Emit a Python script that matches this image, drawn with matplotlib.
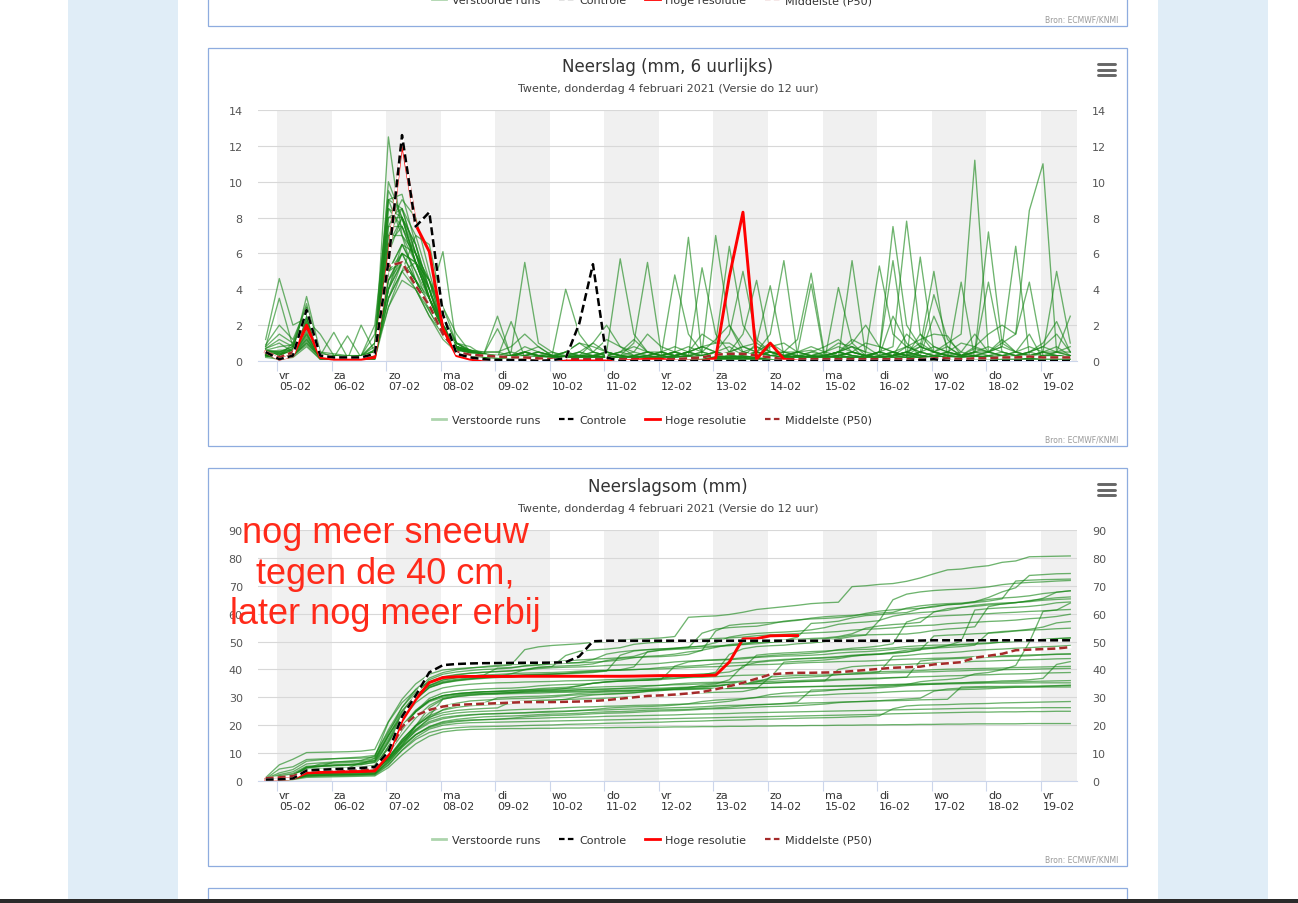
import numpy as np
import pandas as pd
import matplotlib
matplotlib.use('Agg')
import matplotlib.pyplot as plt
import matplotlib.transforms as mtrans
from matplotlib.patches import Rectangle
from matplotlib.lines import Line2D

plt.rcParams['font.family'] = ['DejaVu Sans']

# 6-hourly steps, first value 04-02 19:00 (local time)
times = pd.date_range('2021-02-04 19:00', periods=60, freq='6h').values
days = pd.date_range('2021-02-05', periods=15, freq='D').values
weekdays = ['vr', 'za', 'zo', 'ma', 'di', 'wo', 'do', 'vr', 'za', 'zo', 'ma', 'di', 'wo', 'do', 'vr']
daylabels = ['05-02', '06-02', '07-02', '08-02', '09-02', '10-02', '11-02', '12-02',
             '13-02', '14-02', '15-02', '16-02', '17-02', '18-02', '19-02']

# control run, mm per 6 h
control_rain = [0.5, 0.1, 0.3, 2.85, 0.3, 0.2, 0.2, 0.2, 0.4,
                5.5, 12.6, 7.5, 8.3, 2.6, 0.4, 0.2, 0.1,
                0.05, 0.05, 0.05, 0.0, 0.05, 0.15, 2.1, 5.4, 0.2, 0.0, 0.0, 0.0,
                0.0, 0.0, 0.0, 0.0, 0.0, 0.0, 0.0, 0.0, 0.0, 0.0, 0.0, 0.0,
                0.0, 0.0, 0.0, 0.0, 0.0, 0.0, 0.0, 0.05, 0.1, 0.0, 0.0, 0.0,
                0.0, 0.0, 0.0, 0.0, 0.0, 0.0, 0.0]

# high resolution run (only 40 steps)
hires_rain = [0.5, 0.1, 0.3, 2.0, 0.2, 0.1, 0.1, 0.1, 0.2,
              5.7, 12.3, 7.6, 6.1, 1.8, 0.3, 0.1, 0.0,
              0.0, 0.0, 0.05, 0.0, 0.0, 0.0, 0.0, 0.0, 0.0, 0.0, 0.05, 0.1,
              0.1, 0.0, 0.0, 0.0, 0.15, 4.7, 8.3, 0.1, 1.0, 0.1, 0.0]

# median (P50) of the ensemble
p50_rain = [0.5, 0.2, 0.5, 1.9, 0.3, 0.2, 0.2, 0.2, 0.4,
            5.3, 5.5, 4.2, 3.1, 1.5, 0.5, 0.35, 0.3,
            0.25, 0.2, 0.2, 0.15, 0.1, 0.1, 0.1, 0.1, 0.1, 0.1, 0.1, 0.1,
            0.1, 0.1, 0.15, 0.2, 0.35, 0.4, 0.4, 0.3, 0.2, 0.1, 0.1, 0.1,
            0.1, 0.1, 0.1, 0.1, 0.1, 0.1, 0.1, 0.1, 0.15, 0.15, 0.1, 0.15,
            0.15, 0.2, 0.2, 0.25, 0.2, 0.2, 0.2]

p50_sum = [1.0, 1.3, 1.8, 3.4, 3.6, 3.8, 4.0, 4.2, 4.6,
           9.5, 19.5, 23.5, 25.5, 26.7, 27.3, 27.5, 27.7,
           27.9, 28.1, 28.3, 28.3, 28.3, 28.4, 28.5, 28.7, 29.0, 29.5, 30.0, 30.5,
           30.7, 31.0, 31.4, 31.9, 32.9, 34.0, 35.2, 36.7, 38.2, 38.6, 38.8, 38.8,
           38.9, 39.0, 39.4, 39.8, 40.2, 40.6, 40.8, 41.0, 41.8, 42.2, 42.6, 44.2,
           44.9, 45.6, 46.9, 47.1, 47.3, 47.5, 48.0]

# perturbed members (verstoorde runs), mm per 6 h
ens_rain = [
    [1.2, 4.6, 2.0, 2.4, 0.1, 0.1, 0.1, 0.2, 0.6,
     10.0, 8.0, 5.5, 3.5, 1.5, 0.5, 0.3, 0.2,
     0.3, 0.5, 5.5, 1.0, 0.5, 0.3, 0.3, 0.5, 0.3, 0.5, 0.3, 0.2,
     0.3, 0.5, 6.9, 0.3, 0.2, 0.5, 0.8, 1.0, 0.5, 0.5, 0.5, 0.6,
     0.3, 0.2, 5.6, 0.3, 0.5, 0.3, 0.8, 1.2, 1.5, 1.4, 0.3, 0.7,
     0.5, 1.2, 0.5, 1.5, 0.1, 0.1, 0.1],
    [0.8, 3.5, 0.8, 2.6, 0.2, 0.1, 0.1, 0.1, 0.4,
     12.5, 7.0, 4.5, 3.0, 1.8, 0.8, 0.5, 0.3,
     0.2, 0.3, 0.5, 0.8, 0.3, 0.2, 0.2, 0.5, 1.2, 0.8, 0.3, 0.2,
     0.1, 0.3, 0.5, 1.5, 1.0, 1.0, 0.5, 0.3, 0.2, 0.5, 1.2, 4.9,
     0.3, 0.5, 1.2, 0.8, 0.3, 0.5, 0.3, 1.5, 0.8, 0.5, 0.3, 0.8,
     1.5, 2.0, 1.5, 4.4, 0.3, 0.3, 0.1],
    [0.5, 0.3, 1.0, 3.2, 0.3, 0.3, 0.2, 0.3, 2.0,
     9.0, 9.3, 6.5, 4.0, 2.0, 1.0, 0.6, 0.5,
     0.5, 0.3, 0.2, 0.3, 0.3, 0.5, 0.3, 0.3, 0.2, 0.3, 0.5, 1.5,
     0.8, 0.5, 0.3, 5.2, 1.5, 0.5, 0.3, 0.2, 0.8, 1.0, 0.5, 0.3,
     0.2, 0.3, 0.5, 1.0, 0.8, 0.5, 0.3, 0.2, 0.5, 0.8, 0.3, 0.5,
     0.5, 0.8, 6.4, 0.3, 0.2, 0.1, 0.1],
    [0.6, 0.5, 0.8, 2.2, 0.2, 0.2, 0.1, 2.0, 0.5,
     8.0, 8.5, 6.0, 4.0, 1.5, 0.8, 0.5, 0.4,
     0.3, 0.2, 0.5, 0.3, 0.2, 0.1, 0.2, 0.3, 0.5, 5.7, 1.5, 0.5,
     0.3, 0.2, 0.3, 0.5, 1.2, 2.0, 0.8, 0.5, 0.3, 0.2, 0.3, 0.5,
     0.8, 1.2, 0.5, 0.3, 0.5, 7.5, 2.0, 0.8, 0.5, 0.3, 0.2, 0.3,
     0.5, 0.8, 0.5, 0.3, 0.2, 0.3, 0.2],
    [0.4, 0.2, 0.5, 3.6, 0.5, 0.2, 0.2, 0.2, 1.0,
     7.5, 9.0, 8.0, 5.0, 2.0, 0.8, 0.5, 0.4,
     0.2, 0.3, 0.8, 0.5, 0.3, 0.2, 0.1, 0.2, 0.3, 0.5, 0.8, 0.5,
     0.3, 0.5, 0.8, 0.5, 7.0, 2.0, 0.5, 0.3, 0.2, 0.3, 0.5, 0.8,
     0.5, 0.3, 0.2, 0.3, 0.5, 0.3, 1.5, 0.8, 0.5, 0.3, 0.2, 0.5,
     0.8, 0.5, 0.3, 0.5, 0.8, 0.5, 0.5],
    [0.5, 0.2, 0.6, 1.8, 0.3, 0.2, 0.2, 0.2, 0.3,
     6.0, 8.0, 6.5, 4.0, 1.8, 0.7, 0.4, 0.3,
     0.1, 0.2, 0.3, 0.5, 0.3, 0.2, 0.5, 1.0, 0.5, 0.3, 0.2, 0.1,
     0.2, 0.3, 0.5, 0.8, 1.0, 6.4, 2.0, 0.8, 0.3, 0.2, 0.5, 0.3,
     0.5, 1.0, 0.8, 0.5, 5.3, 1.5, 0.8, 0.5, 0.3, 0.5, 1.0, 0.8,
     0.5, 0.3, 0.2, 0.5, 1.0, 2.2, 0.5],
    [0.7, 1.0, 0.5, 2.8, 0.3, 0.3, 0.2, 0.2, 0.6,
     7.0, 8.5, 7.0, 4.5, 1.8, 0.8, 0.5, 0.3,
     0.3, 0.5, 0.3, 0.2, 0.1, 0.2, 0.3, 0.2, 0.5, 0.3, 1.0, 5.5,
     0.5, 0.3, 0.2, 0.3, 0.5, 0.3, 0.5, 0.8, 0.5, 0.3, 0.2, 0.3,
     0.2, 0.5, 1.0, 2.0, 0.8, 0.5, 0.3, 0.5, 3.7, 1.2, 0.5, 0.3,
     0.5, 0.3, 0.5, 0.8, 0.5, 0.5, 0.3],
    [0.3, 0.5, 0.4, 1.5, 0.2, 0.1, 0.1, 0.1, 0.2,
     4.5, 6.0, 5.5, 4.0, 2.0, 1.0, 0.6, 0.3,
     0.2, 0.3, 0.5, 0.3, 0.2, 0.5, 1.0, 0.5, 0.3, 0.2, 0.3, 0.5,
     0.3, 0.5, 0.2, 0.3, 0.5, 0.8, 0.3, 0.5, 1.5, 5.6, 0.3, 0.2,
     0.3, 0.5, 0.8, 0.5, 0.3, 0.5, 0.3, 0.8, 0.5, 1.0, 1.5, 11.2,
     0.5, 0.3, 0.2, 0.3, 0.5, 0.8, 0.3],
    [0.9, 2.0, 1.2, 3.0, 0.5, 0.4, 0.3, 0.3, 0.6,
     8.5, 7.5, 5.5, 3.5, 2.0, 0.8, 0.6, 0.4,
     2.5, 0.2, 0.5, 0.3, 0.5, 0.2, 0.3, 1.0, 2.0, 0.8, 0.5, 0.3,
     0.2, 0.3, 0.5, 0.2, 0.1, 0.3, 0.2, 0.3, 0.5, 0.3, 0.2, 0.5,
     0.3, 0.5, 0.8, 0.1, 0.1, 0.1, 0.1, 0.5, 0.8, 0.5, 0.3, 0.5,
     7.2, 1.0, 0.5, 0.3, 0.5, 0.3, 0.2],
    [0.4, 0.3, 0.6, 2.5, 0.3, 0.2, 0.2, 0.2, 0.4,
     6.5, 7.5, 6.0, 4.5, 2.0, 0.7, 0.4, 0.3,
     0.2, 0.1, 0.3, 0.5, 0.3, 0.2, 0.1, 0.3, 0.5, 0.3, 0.2, 0.1,
     0.3, 4.8, 1.5, 0.5, 0.3, 0.2, 0.5, 0.3, 0.5, 0.3, 0.2, 0.3,
     0.5, 0.8, 0.5, 0.3, 0.5, 0.8, 7.8, 1.5, 0.5, 0.3, 0.2, 0.3,
     0.2, 0.3, 0.2, 0.3, 0.2, 0.3, 0.2],
    [0.3, 0.2, 0.4, 1.2, 0.2, 0.1, 0.1, 0.1, 0.2,
     4.5, 6.0, 4.5, 3.0, 1.5, 0.8, 0.5, 0.4,
     0.2, 0.1, 0.2, 0.3, 0.2, 0.1, 0.2, 0.3, 0.5, 0.3, 0.2, 0.1,
     0.2, 0.3, 0.5, 0.8, 0.5, 0.3, 0.2, 0.5, 1.0, 0.5, 0.3, 0.2,
     0.3, 0.5, 0.3, 0.2, 0.5, 0.3, 0.5, 1.0, 0.5, 0.3, 0.5, 1.5,
     0.5, 1.0, 1.5, 8.4, 11.0, 0.5, 2.5],
    [0.6, 0.8, 0.9, 2.3, 1.5, 0.3, 0.2, 0.3, 0.5,
     9.0, 7.0, 6.0, 4.0, 1.8, 0.8, 0.6, 0.5,
     0.5, 0.8, 1.5, 0.8, 0.3, 4.0, 1.5, 0.5, 0.3, 0.5, 1.2, 0.5,
     0.3, 0.2, 0.3, 0.5, 0.3, 0.2, 0.3, 0.5, 0.3, 0.2, 0.3, 0.2,
     0.2, 0.3, 0.5, 0.3, 0.2, 0.3, 0.5, 0.3, 0.2, 0.5, 0.3, 0.2,
     0.3, 0.2, 0.3, 0.5, 0.3, 0.5, 0.8],
    [0.5, 0.4, 0.5, 1.8, 0.3, 0.2, 0.2, 0.2, 0.3,
     4.0, 6.0, 5.5, 4.5, 2.5, 1.0, 0.8, 0.3,
     0.3, 0.2, 0.1, 0.2, 0.3, 0.5, 0.3, 0.2, 0.1, 0.2, 0.3, 0.5,
     0.5, 0.3, 0.5, 0.8, 0.5, 1.5, 5.0, 1.2, 0.5, 0.3, 0.5, 0.3,
     0.2, 0.3, 0.5, 0.3, 0.2, 0.5, 0.8, 0.5, 0.3, 0.2, 0.3, 0.5,
     4.4, 0.5, 0.3, 0.5, 0.8, 1.5, 0.5],
    [0.8, 1.5, 1.0, 2.8, 0.4, 0.3, 0.3, 0.3, 1.5,
     9.5, 8.0, 5.5, 3.5, 1.8, 0.8, 0.6, 0.4,
     0.3, 0.2, 0.3, 0.5, 0.3, 0.2, 0.1, 0.2, 0.3, 0.2, 0.1, 0.2,
     0.3, 0.5, 0.3, 0.2, 0.1, 0.2, 0.3, 0.5, 0.3, 0.2, 0.1, 0.2,
     0.3, 0.5, 0.3, 0.2, 0.3, 0.5, 0.3, 0.2, 0.3, 0.5, 0.3, 0.2,
     0.3, 0.5, 0.3, 0.2, 0.5, 0.3, 0.2],
    [0.5, 0.3, 0.7, 2.0, 0.3, 0.2, 0.2, 0.2, 0.4,
     3.0, 5.0, 7.0, 6.5, 3.0, 1.0, 0.5, 0.4,
     0.2, 0.3, 0.5, 0.3, 0.2, 0.5, 1.0, 0.8, 0.5, 0.3, 0.2, 0.3,
     0.5, 0.8, 0.5, 0.3, 0.2, 0.5, 1.5, 4.5, 0.5, 0.3, 0.2, 0.3,
     0.2, 0.3, 0.2, 0.1, 0.2, 0.3, 0.5, 0.3, 0.2, 0.1, 0.2, 0.3,
     0.2, 0.3, 0.2, 0.3, 0.2, 0.5, 0.3],
    [0.6, 0.5, 0.8, 3.0, 0.3, 1.6, 0.2, 0.3, 0.8,
     8.0, 8.0, 6.5, 3.5, 1.6, 0.8, 0.5, 0.3,
     0.2, 0.3, 0.2, 0.1, 0.2, 0.3, 0.5, 0.3, 0.2, 0.1, 0.2, 0.3,
     0.5, 0.3, 0.2, 0.3, 0.5, 0.3, 0.2, 0.3, 0.5, 0.3, 0.2, 0.1,
     0.2, 0.3, 0.5, 0.3, 0.2, 0.3, 0.5, 0.8, 5.0, 0.3, 0.2, 0.3,
     0.2, 0.3, 0.5, 0.3, 0.2, 0.3, 0.2],
    [0.4, 0.3, 0.5, 1.6, 0.2, 0.2, 1.4, 0.2, 0.3,
     5.0, 6.5, 6.0, 4.5, 2.5, 1.0, 0.5, 0.2,
     0.1, 0.2, 0.3, 0.2, 0.1, 0.2, 0.3, 0.2, 0.1, 0.2, 0.3, 0.5,
     0.3, 0.5, 0.3, 0.2, 0.1, 0.1, 0.3, 0.2, 0.3, 0.5, 0.3, 0.2,
     0.3, 0.5, 0.3, 0.2, 0.5, 5.6, 0.3, 0.5, 0.3, 0.2, 0.3, 0.5,
     0.3, 0.2, 0.3, 0.2, 0.3, 0.2, 0.3],
    [0.7, 1.2, 0.8, 2.6, 0.3, 0.2, 0.2, 0.3, 1.0,
     9.0, 8.5, 6.0, 3.5, 2.0, 0.8, 0.5, 0.4,
     0.2, 0.3, 0.2, 0.1, 0.1, 0.2, 0.3, 0.2, 0.1, 0.1, 0.2, 0.1,
     0.1, 0.2, 0.3, 0.2, 0.1, 0.2, 0.3, 0.2, 0.1, 0.2, 0.3, 0.2,
     0.1, 0.2, 0.1, 0.1, 0.2, 0.3, 0.2, 0.1, 0.2, 0.1, 0.2, 0.3,
     0.1, 0.2, 0.1, 0.2, 0.1, 0.2, 0.1],
    [0.5, 0.6, 0.6, 2.2, 0.3, 0.2, 0.2, 0.2, 0.5,
     7.0, 7.0, 5.5, 4.0, 1.8, 0.7, 0.4, 0.3,
     0.1, 0.1, 0.1, 0.1, 0.1, 0.1, 0.1, 0.1, 0.1, 0.2, 0.1, 0.0,
     0.1, 0.2, 0.2, 0.2, 0.1, 0.5, 0.3, 0.2, 0.1, 0.2, 0.3, 0.2,
     0.1, 4.1, 1.0, 0.3, 0.2, 0.1, 0.2, 0.3, 0.2, 0.1, 0.2, 0.3,
     0.1, 0.2, 0.1, 0.2, 0.1, 0.2, 0.1],
    [0.3, 0.2, 0.3, 1.0, 0.2, 0.1, 0.1, 0.1, 0.2,
     4.0, 5.5, 4.5, 3.0, 1.8, 0.8, 0.5, 0.4,
     0.2, 0.1, 0.2, 0.3, 0.2, 0.1, 0.2, 0.3, 0.2, 0.1, 0.2, 0.3,
     0.1, 0.1, 0.1, 0.3, 0.2, 0.3, 0.5, 0.3, 0.2, 0.3, 0.5, 4.3,
     0.1, 0.1, 0.1, 0.3, 0.2, 0.3, 0.5, 0.3, 0.2, 0.3, 0.2, 0.3,
     0.1, 0.3, 0.1, 0.3, 0.5, 5.0, 1.0],
    [0.6, 0.4, 0.7, 2.4, 0.3, 0.2, 0.2, 0.2, 0.6,
     8.5, 8.0, 6.0, 3.5, 1.8, 0.8, 0.5, 0.3,
     0.2, 0.1, 0.2, 0.1, 0.1, 0.2, 0.1, 0.1, 0.2, 0.1, 0.1, 0.2,
     0.1, 0.2, 0.1, 0.1, 0.2, 0.3, 0.2, 0.1, 0.1, 0.2, 0.1, 0.1,
     0.1, 0.2, 0.1, 0.1, 0.2, 0.1, 0.1, 0.2, 0.3, 0.2, 0.1, 0.1,
     0.1, 0.1, 0.2, 0.1, 0.1, 0.1, 0.1],
    [0.4, 0.3, 0.5, 1.9, 0.2, 0.2, 0.1, 0.2, 0.3,
     3.5, 5.0, 5.5, 4.5, 3.0, 1.5, 0.5, 0.4,
     1.8, 0.3, 0.2, 0.1, 0.2, 0.3, 0.5, 0.3, 0.2, 0.1, 0.2, 0.3,
     0.5, 0.3, 0.2, 0.3, 0.5, 0.3, 0.2, 0.1, 0.2, 0.3, 0.2, 0.1,
     0.2, 0.3, 0.2, 0.1, 0.2, 0.3, 0.2, 5.8, 0.5, 0.3, 0.2, 0.1,
     0.3, 0.2, 0.1, 0.2, 0.3, 0.2, 0.1],
    [0.5, 0.5, 0.6, 2.0, 0.3, 0.2, 0.2, 0.2, 0.4,
     7.5, 7.5, 5.5, 3.5, 1.7, 0.7, 0.4, 0.3,
     0.2, 0.3, 0.2, 0.1, 0.2, 0.1, 0.2, 0.3, 0.2, 0.1, 0.2, 0.1,
     0.1, 0.2, 0.1, 0.2, 0.3, 0.2, 0.1, 0.2, 0.1, 0.2, 0.1, 0.2,
     0.1, 0.2, 0.1, 0.2, 0.1, 0.2, 0.1, 0.2, 0.1, 0.2, 0.1, 0.2,
     0.1, 0.2, 0.1, 0.1, 0.2, 0.1, 0.1],
    [0.3, 0.3, 0.4, 1.5, 0.2, 0.2, 0.1, 0.1, 0.3,
     5.0, 6.5, 5.0, 3.0, 1.6, 0.8, 0.4, 0.3,
     0.2, 2.2, 0.2, 0.3, 0.2, 0.1, 0.2, 0.1, 0.2, 0.3, 0.2, 0.1,
     0.2, 0.3, 0.5, 0.3, 0.2, 0.1, 0.2, 1.0, 4.2, 0.3, 0.2, 0.1,
     0.1, 0.2, 0.1, 0.2, 0.1, 0.2, 0.1, 0.2, 0.1, 0.2, 0.1, 0.2,
     0.1, 0.1, 0.1, 0.1, 0.1, 0.1, 0.1],
    [0.5, 0.3, 0.6, 2.1, 0.3, 0.2, 0.2, 0.2, 0.5,
     6.5, 8.0, 5.5, 3.5, 1.7, 0.8, 0.4, 0.2,
     0.1, 0.1, 0.1, 0.1, 0.1, 0.1, 0.1, 0.1, 0.1, 0.1, 0.1, 0.1,
     0.1, 0.1, 0.1, 0.1, 0.1, 0.1, 0.1, 0.1, 0.1, 0.1, 0.1, 0.1,
     0.1, 0.1, 0.2, 0.1, 0.1, 0.1, 0.2, 0.1, 0.1, 0.1, 0.1, 0.1,
     0.1, 0.1, 0.1, 0.1, 0.1, 0.1, 0.1],
    [0.4, 0.4, 0.5, 1.7, 0.3, 0.2, 0.2, 0.2, 0.4,
     4.0, 6.5, 5.0, 3.5, 6.1, 0.8, 0.5, 0.3,
     0.1, 0.2, 0.1, 0.1, 0.2, 0.1, 0.1, 0.1, 0.2, 0.1, 0.1, 0.1,
     0.1, 0.1, 0.1, 0.2, 0.1, 0.1, 0.1, 0.1, 0.1, 0.1, 0.1, 0.1,
     0.1, 0.1, 0.1, 0.1, 0.1, 0.1, 0.1, 0.1, 0.1, 0.1, 0.1, 0.1,
     0.1, 0.0, 0.0, 0.1, 0.0, 0.0, 0.0],
    [0.4, 0.2, 0.4, 1.4, 0.2, 0.1, 0.1, 0.1, 0.2,
     5.0, 6.0, 4.5, 3.5, 1.6, 0.7, 0.4, 0.2,
     0.2, 0.3, 0.2, 0.1, 0.2, 0.3, 0.2, 0.1, 0.2, 0.1, 0.2, 0.1,
     0.1, 0.2, 0.1, 0.2, 0.3, 0.5, 0.8, 0.5, 0.3, 0.2, 0.1, 0.2,
     0.2, 0.3, 0.2, 0.1, 0.2, 0.3, 0.2, 0.1, 0.2, 0.1, 0.2, 0.1,
     0.2, 0.3, 0.2, 0.1, 0.2, 0.3, 0.2],
    [0.3, 0.2, 0.3, 1.1, 0.2, 0.1, 0.1, 0.1, 0.2,
     4.5, 5.5, 4.0, 2.5, 1.5, 0.7, 0.4, 0.3,
     0.2, 0.3, 0.5, 0.3, 0.2, 0.1, 0.2, 0.3, 0.2, 0.1, 0.2, 0.3,
     0.2, 0.1, 0.2, 0.3, 0.2, 0.1, 0.2, 0.3, 0.2, 0.1, 0.2, 0.3,
     0.3, 0.5, 0.3, 0.2, 0.2, 0.3, 0.3, 0.3, 2.5, 0.8, 0.3, 0.2,
     0.1, 0.0, 0.1, 0.0, 0.0, 0.0, 0.0],
    [0.4, 0.3, 0.4, 1.3, 0.2, 0.2, 0.1, 0.1, 0.3,
     5.0, 5.5, 4.5, 3.0, 1.5, 0.6, 0.4, 0.2,
     0.1, 0.2, 0.1, 0.2, 0.1, 0.2, 0.3, 0.2, 0.1, 0.2, 0.1, 0.2,
     0.1, 0.2, 0.1, 0.2, 0.3, 0.2, 0.1, 0.2, 0.1, 0.2, 0.1, 0.2,
     0.1, 0.2, 0.1, 0.1, 0.2, 0.1, 0.1, 0.2, 0.1, 0.1, 4.4, 0.1,
     0.1, 0.0, 0.1, 0.0, 0.1, 0.0, 0.1],
    [0.3, 0.2, 0.3, 1.0, 0.2, 0.1, 0.1, 0.1, 0.1,
     3.5, 5.0, 4.0, 2.5, 1.2, 0.5, 0.3, 0.1,
     0.1, 0.1, 0.2, 0.1, 0.1, 0.2, 0.1, 0.1, 0.2, 0.1, 0.1, 0.1,
     0.1, 0.2, 0.1, 0.1, 0.2, 0.1, 0.1, 0.2, 0.1, 0.1, 0.2, 0.1,
     0.1, 0.1, 0.2, 0.1, 0.3, 2.5, 1.0, 0.3, 0.1, 0.1, 0.2, 0.1,
     0.1, 0.2, 0.1, 0.1, 0.1, 0.1, 0.1],
    [0.3, 0.2, 0.3, 1.2, 0.2, 0.1, 0.1, 0.1, 0.2,
     4.0, 5.5, 4.5, 2.8, 1.5, 0.6, 0.3, 0.1,
     0.1, 0.2, 0.1, 0.1, 0.2, 0.1, 0.1, 0.1, 0.2, 0.1, 0.1, 0.1,
     0.1, 0.1, 0.2, 0.1, 0.1, 0.1, 0.2, 0.1, 0.1, 0.1, 0.1, 0.1,
     0.1, 0.1, 0.1, 0.1, 0.1, 0.1, 0.1, 0.1, 0.1, 0.1, 0.1, 0.1,
     0.0, 0.1, 0.0, 0.0, 0.1, 0.0, 0.0],
    [0.3, 0.1, 0.3, 0.9, 0.1, 0.1, 0.1, 0.1, 0.1,
     3.5, 5.5, 4.5, 3.0, 1.4, 0.6, 0.3, 0.1,
     0.1, 0.1, 0.1, 0.1, 0.1, 0.1, 0.1, 0.1, 0.1, 0.1, 0.1, 0.1,
     0.1, 0.1, 0.1, 0.1, 0.1, 0.1, 0.1, 0.1, 0.1, 0.1, 0.1, 0.1,
     0.1, 0.1, 0.1, 0.1, 0.1, 0.2, 0.1, 0.1, 0.1, 0.1, 0.1, 0.1,
     0.0, 0.1, 0.0, 0.1, 0.0, 0.1, 0.0],
    [0.2, 0.1, 0.2, 0.8, 0.1, 0.1, 0.1, 0.1, 0.1,
     3.0, 4.5, 4.0, 2.8, 1.5, 0.6, 0.3, 0.1,
     0.1, 0.1, 0.0, 0.1, 0.0, 0.1, 0.0, 0.1, 0.0, 0.1, 0.0, 0.1,
     0.0, 0.1, 0.0, 0.1, 0.0, 0.1, 0.0, 0.1, 0.0, 0.1, 0.0, 0.1,
     0.0, 0.1, 0.0, 0.1, 0.0, 0.1, 0.0, 0.1, 0.0, 0.1, 0.0, 0.1,
     0.0, 0.0, 0.0, 0.1, 0.0, 0.0, 0.0],
]
for r in ens_rain:
    assert len(r) == 60, len(r)

W, H = 1298, 904
GREEN = '#168616'
RED = '#ff0000'
DARKRED = '#a52a2a'
BORDER = '#8eacdf'
TITLE = 'Twente, donderdag 4 februari 2021 (Versie do 12 uur)'


def fx(px):
    return px / W


def fy(py):
    return 1 - py / H


fig = plt.figure(figsize=(W / 100, H / 100), dpi=100)
fig.patch.set_facecolor('white')

# page background: light blue side strips
for x0 in (68, 1158):
    fig.add_artist(Rectangle((fx(x0), 0), 110 / W, 1, transform=fig.transFigure,
                             facecolor='#e0edf7', edgecolor='none', zorder=-3))


def panel_frame(off):
    fig.add_artist(Rectangle((fx(208), fy(447 + off)), (1127 - 208) / W, 398 / H,
                             transform=fig.transFigure, facecolor='white',
                             edgecolor=BORDER, lw=0.9, zorder=-2))


def legend_and_source(off):
    handles = [Line2D([], [], color=GREEN, alpha=0.35, lw=2),
               Line2D([], [], color='black', lw=1.6, ls=(0, (2.5, 1.5))),
               Line2D([], [], color=RED, lw=2),
               Line2D([], [], color=DARKRED, lw=1.6, ls=(0, (2.5, 1.5)))]
    labels = ['Verstoorde runs', 'Controle', 'Hoge resolutie', 'Middelste (P50)']
    leg = fig.legend(handles, labels, loc='center', bbox_to_anchor=(fx(652), fy(421 + off)),
                     ncol=4, frameon=False, fontsize=8, handlelength=1.3, handletextpad=0.5,
                     columnspacing=1.7, labelcolor='#333333')
    fig.text(fx(1118), fy(440 + off), 'Bron: ECMWF/KNMI', ha='right', va='center',
             fontsize=5.5, color='#999999')
    return leg


def chart(off, title, ymax, ystep):
    panel_frame(off)
    fig.text(fx(668), fy(67 + off), title, ha='center', va='center', fontsize=12, color='#333333')
    fig.text(fx(668), fy(89 + off), TITLE, ha='center', va='center', fontsize=8, color='#444444')
    # menu icon
    for yy in (65, 70.5, 76):
        fig.add_artist(Line2D([fx(1098), fx(1115)], [fy(yy + off)] * 2, transform=fig.transFigure,
                              color='#666666', lw=2.1, solid_capstyle='round'))
    ax = fig.add_axes([fx(258), fy(362 + off), (1077 - 258) / W, (362 - 111) / H])
    ax.set_facecolor('white')
    for k in range(0, 15, 2):
        ax.axvspan(days[k], days[k] + np.timedelta64(1, 'D'), color='#f0f0f0', lw=0, zorder=0)
    ax.set_xlim(np.datetime64('2021-02-04T15:38'), np.datetime64('2021-02-19T15:58'))
    ax.set_ylim(0, ymax)
    ax.set_yticks(np.arange(0, ymax + 1, ystep))
    ax.yaxis.grid(True, color='#d8d8d8', lw=0.8)
    ax.set_axisbelow(True)
    for s in ('top', 'left', 'right'):
        ax.spines[s].set_visible(False)
    ax.spines['bottom'].set_color('#ccd6eb')
    ax.spines['bottom'].set_linewidth(0.8)
    ax.tick_params(axis='y', length=0, labelleft=True, labelright=True, labelsize=8,
                   labelcolor='#555555', pad=11)
    ax.set_xticks(days)
    ax.set_xticklabels([f'{w}\n{d}' for w, d in zip(weekdays, daylabels)], ha='left',
                       multialignment='left')
    ax.tick_params(axis='x', length=7.2, width=0.8, color='#ccd6eb', labelsize=8,
                   labelcolor='#333333', pad=-1)
    shift = mtrans.ScaledTranslation(2 / 100, 0, fig.dpi_scale_trans)
    for lbl in ax.get_xticklabels():
        lbl.set_transform(lbl.get_transform() + shift)
    legend_and_source(off)
    return ax


def draw_series(ax, ens, ctrl, hires, p50):
    for row in ens:
        ax.plot(times, row, color=GREEN, alpha=0.62, lw=0.95, zorder=2)
    ax.plot(times, p50, color='white', lw=1.8, zorder=3)
    ax.plot(times, p50, color=DARKRED, lw=1.8, ls=(0, (3.2, 1.6)), zorder=3.1)
    ax.plot(times[:len(hires)], hires, color=RED, lw=2.1, zorder=4)
    ax.plot(times, ctrl, color='white', lw=1.8, zorder=5)
    ax.plot(times, ctrl, color='black', lw=1.8, ls=(0, (3.2, 1.6)), zorder=5.1)


# partially visible panel above
panel_frame(-420)
legend_and_source(-420)

# Neerslag (mm, 6 uurlijks)
ax1 = chart(0, 'Neerslag (mm, 6 uurlijks)', 14, 2)
draw_series(ax1, ens_rain, control_rain, hires_rain, p50_rain)

# Neerslagsom (mm)
ax2 = chart(420, 'Neerslagsom (mm)', 90, 10)
draw_series(ax2, [np.cumsum(r) for r in ens_rain], np.cumsum(control_rain),
            np.cumsum(hires_rain), p50_sum)

fig.text(fx(385), fy(574), 'nog meer sneeuw\ntegen de 40 cm,\nlater nog meer erbij',
         ha='center', va='center', multialignment='center', fontsize=26,
         color='#ff2a1a', family=['Liberation Sans', 'DejaVu Sans'], zorder=20)

# partially visible panel below and the dark bar at the bottom edge
panel_frame(840)
fig.add_artist(Rectangle((0, 0), 1, 4 / H, transform=fig.transFigure,
                         facecolor='#2a2a2a', edgecolor='none', zorder=30))

fig.savefig('out.png', dpi=100)
